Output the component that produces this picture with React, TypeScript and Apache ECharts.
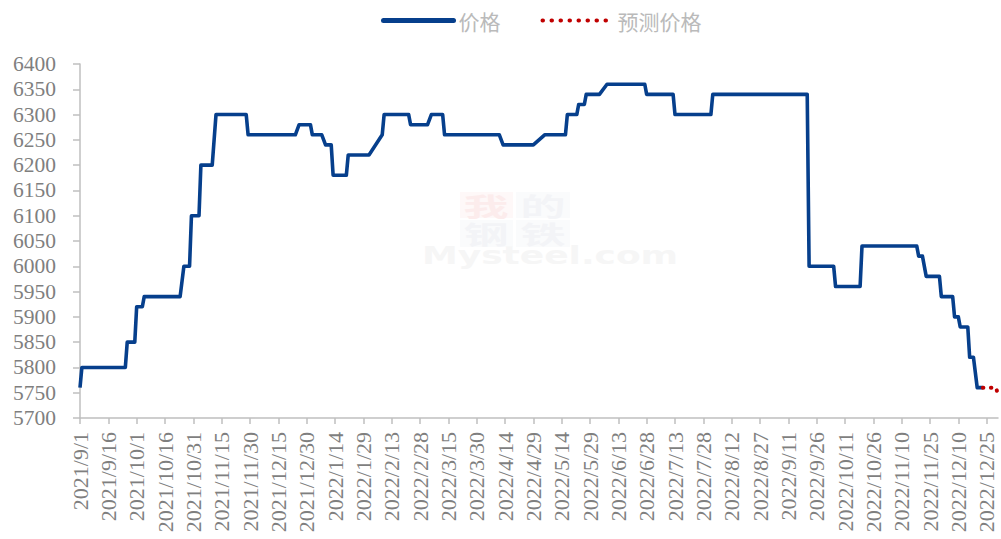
import React, { useEffect, useRef } from "react";
import * as echarts from "echarts";

// Actual price (change points of the series)
const priceDates = [
  "2021/9/1", "2021/9/2", "2021/9/25", "2021/9/26", "2021/9/30", "2021/10/1",
  "2021/10/4", "2021/10/5", "2021/10/24", "2021/10/26", "2021/10/29", "2021/10/30",
  "2021/11/3", "2021/11/4", "2021/11/10", "2021/11/12", "2021/11/28", "2021/11/29",
  "2021/12/24", "2021/12/26", "2022/1/1", "2022/1/2", "2022/1/7", "2022/1/9",
  "2022/1/12", "2022/1/13", "2022/1/20", "2022/1/21", "2022/2/1", "2022/2/8",
  "2022/2/9", "2022/2/22", "2022/2/23", "2022/3/4", "2022/3/6", "2022/3/12",
  "2022/3/13", "2022/4/11", "2022/4/13", "2022/4/29", "2022/5/5", "2022/5/16",
  "2022/5/17", "2022/5/22", "2022/5/23", "2022/5/26", "2022/5/27", "2022/6/3",
  "2022/6/7", "2022/6/27", "2022/6/28", "2022/7/12", "2022/7/13", "2022/8/1",
  "2022/8/2", "2022/9/21", "2022/9/22", "2022/10/5", "2022/10/6", "2022/10/19",
  "2022/10/20", "2022/11/18", "2022/11/19", "2022/11/21", "2022/11/23", "2022/11/30",
  "2022/12/1", "2022/12/7", "2022/12/8", "2022/12/10", "2022/12/11", "2022/12/15",
  "2022/12/16", "2022/12/18", "2022/12/20", "2022/12/23",
];
const priceValues = [
  5760, 5800, 5800, 5850, 5850, 5920,
  5920, 5940, 5940, 6000, 6000, 6100,
  6100, 6200, 6200, 6300, 6300, 6260,
  6260, 6280, 6280, 6260, 6260, 6240,
  6240, 6180, 6180, 6220, 6220, 6260,
  6300, 6300, 6280, 6280, 6300, 6300,
  6260, 6260, 6240, 6240, 6260, 6260,
  6300, 6300, 6320, 6320, 6340, 6340,
  6360, 6360, 6340, 6340, 6300, 6300,
  6340, 6340, 6000, 6000, 5960, 5960,
  6040, 6040, 6020, 6020, 5980, 5980,
  5940, 5940, 5900, 5900, 5880, 5880,
  5820, 5820, 5760, 5760,
];

// Forecast price
const forecastDates = ["2022/12/23", "2022/12/30", "2022/12/31"];
const forecastValues = [5760, 5760, 5745];

const axisStartDate = "2021/9/1";
const axisEndDate = "2022/12/31";
const tickDays = 15;
const yMin = 5700;
const yMax = 6400;
const yStep = 50;

const seriesNames = ["价格", "预测价格"];

const parseUTC = (s: string) => {
  const [y, m, d] = s.split("/").map(Number);
  return Date.UTC(y, m - 1, d);
};
const DAY = 86400000;
const startMs = parseUTC(axisStartDate);
const toDay = (s: string) => Math.round((parseUTC(s) - startMs) / DAY);
const fmtDay = (d: number) => {
  const dt = new Date(startMs + d * DAY);
  return `${dt.getUTCFullYear()}/${dt.getUTCMonth() + 1}/${dt.getUTCDate()}`;
};

const blue = "#063f8c";
const red = "#c00000";

export default function App() {
  const ref = useRef<HTMLDivElement>(null);
  useEffect(() => {
    if (!ref.current) return;
    const chart = echarts.init(ref.current, undefined, { renderer: "svg" });
    const axisColor = "#bfbfbf";
    const labelColor = "#7f7f7f";
    const serif = "'Liberation Serif', 'Times New Roman', serif";
    const wmText = (t: string, x: number, y: number, fill: string) => ({
      type: "text", z: 0, x, y, scaleX: 1.8,
      style: { text: t, fill, fontSize: 25, fontWeight: "bold", align: "center", verticalAlign: "middle", fontFamily: "'Noto Sans CJK SC'" },
    });
    chart.setOption({
      animation: false,
      backgroundColor: "#ffffff",
      grid: { left: 80, right: 3, top: 64, bottom: 121, containLabel: false },
      legend: {
        data: [
          {
            name: seriesNames[0],
            itemStyle: { opacity: 0 },
            lineStyle: { color: blue, width: 5, cap: "round" },
          },
          {
            name: seriesNames[1],
            itemStyle: { opacity: 0 },
            lineStyle: { color: red, width: 4, type: [0.5, 8.5], cap: "round" },
          },
        ],
        left: 376,
        top: 5,
        itemWidth: 70,
        itemHeight: 14,
        itemGap: 40,
        textStyle: {
          color: "#bababa",
          fontSize: 21,
          fontFamily: "'Noto Sans CJK SC', sans-serif",
        },
      },
      graphic: [
        { type: "rect", z: 0, shape: { x: 460, y: 192, width: 53, height: 26 }, style: { fill: "#fef8f8" } },
        { type: "rect", z: 0, shape: { x: 516, y: 192, width: 54, height: 26 }, style: { fill: "#fafbfc" } },
        { type: "rect", z: 0, shape: { x: 460, y: 220, width: 53, height: 27 }, style: { fill: "#fafbfc" } },
        { type: "rect", z: 0, shape: { x: 516, y: 220, width: 54, height: 27 }, style: { fill: "#fafbfc" } },
        wmText("我", 486, 205, "#fcecec"),
        wmText("的", 543, 205, "#f3f4f7"),
        wmText("钢", 486, 233, "#f3f4f7"),
        wmText("铁", 543, 233, "#f3f4f7"),
        { type: "text", z: 0, x: 550, y: 256, scaleX: 1.5, style: { text: "Mysteel.com", fill: "#f6f6f6", fontSize: 24, fontWeight: "bold", align: "center", verticalAlign: "middle", fontFamily: "'DejaVu Sans', sans-serif" } },
      ],
      xAxis: {
        type: "value",
        min: 0,
        max: toDay(axisEndDate),
        interval: tickDays,
        splitLine: { show: false },
        axisLine: { show: true, onZero: false, lineStyle: { color: axisColor, width: 1.5 } },
        axisTick: { show: true, length: 6, lineStyle: { color: axisColor, width: 1.5 } },
        axisLabel: {
          rotate: 90,
          margin: 14,
          color: labelColor,
          fontSize: 22,
          fontFamily: serif,
          showMaxLabel: false,
          formatter: (v: number) => (v % tickDays === 0 ? fmtDay(v) : ""),
        },
      },
      yAxis: {
        type: "value",
        min: yMin,
        max: yMax,
        interval: yStep,
        splitLine: { show: false },
        axisLine: { show: true, lineStyle: { color: axisColor, width: 1.5 } },
        axisTick: { show: true, length: 7, lineStyle: { color: axisColor, width: 1.5 } },
        axisLabel: {
          margin: 24,
          color: labelColor,
          fontSize: 21.5,
          fontFamily: serif,
          formatter: (v: number) => String(v),
        },
      },
      series: [
        {
          name: seriesNames[0],
          type: "line",
          symbol: "none",
          z: 3,
          lineStyle: { color: blue, width: 3.6, join: "round" },
          itemStyle: { color: blue },
          data: priceDates.map((d, i) => [toDay(d), priceValues[i]]),
        },
        {
          name: seriesNames[1],
          type: "line",
          symbol: "none",
          z: 3,
          lineStyle: { color: red, width: 4, type: [0.5, 7.5], cap: "round" },
          itemStyle: { color: red },
          data: forecastDates.map((d, i) => [toDay(d), forecastValues[i]]),
        },
      ],
    });
    return () => chart.dispose();
  }, []);
  return (
    <div
      ref={ref}
      style={{ position: "fixed", left: 0, top: 0, width: 1001, height: 539 }}
    />
  );
}
